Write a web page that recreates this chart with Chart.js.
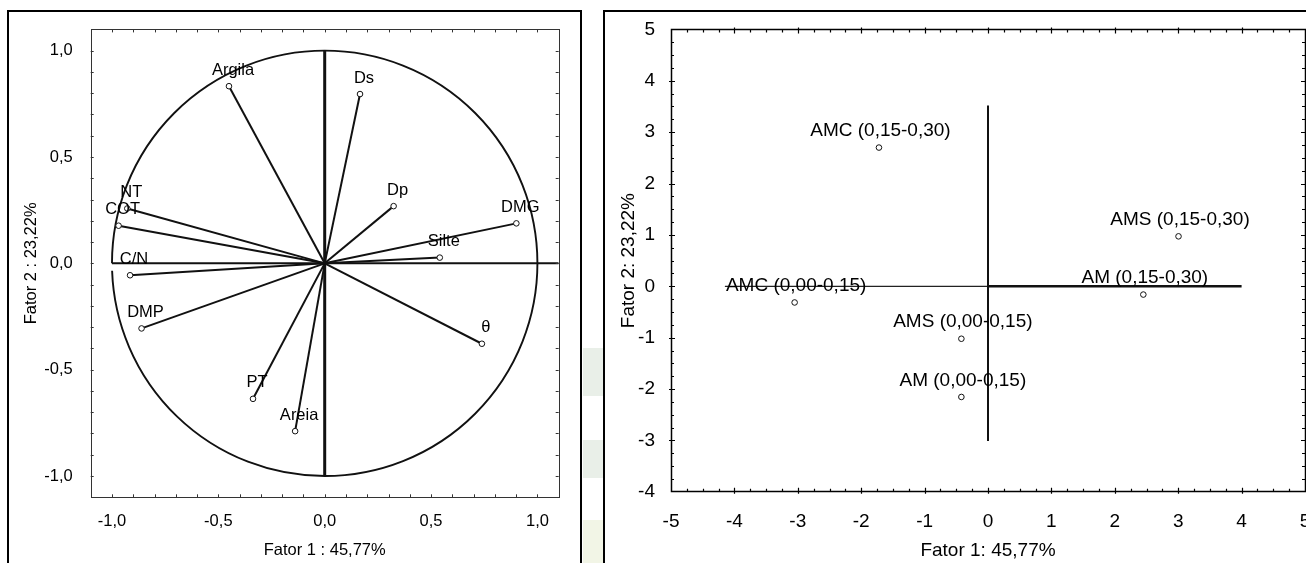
<!DOCTYPE html>
<html><head><meta charset="utf-8">
<script src="https://cdn.jsdelivr.net/npm/chart.js@4.4.0/dist/chart.umd.min.js"></script>
<style>
html,body{margin:0;padding:0;background:#fff;overflow:hidden;width:1306px;height:563px;}
#wrapL{position:absolute;left:0;top:0;width:590px;height:563px;}
#wrapR{position:absolute;left:600px;top:0;width:760px;height:563px;}
.box{position:absolute;border:2px solid #000;}
.band{position:absolute;}
canvas{display:block;}
</style></head>
<body>
<div class="band" style="left:583px;top:348px;width:20px;height:48px;background:#e9efe8"></div>
<div class="band" style="left:583px;top:440px;width:20px;height:38px;background:#e9efe8"></div>
<div class="band" style="left:583px;top:520px;width:20px;height:43px;background:#f2f5e6"></div>
<div class="box" style="left:7px;top:10px;width:571px;height:620px"></div>
<div class="box" style="left:603px;top:10px;width:800px;height:620px"></div>
<div id="wrapL"><canvas id="cL" width="590" height="563"></canvas></div>
<div id="wrapR"><canvas id="cR" width="760" height="563"></canvas></div>
<script>
// ---------- data (left: variable loadings) ----------
const varNames = ['Argila','Ds','Dp','DMG','Silte','θ','NT','COT','C/N','DMP','PT','Areia'];
const fator1Load = [-0.450, 0.166, 0.324, 0.901, 0.541, 0.739, -0.928, -0.969, -0.915, -0.861, -0.337, -0.139];
const fator2Load = [0.833, 0.796, 0.269, 0.188, 0.027, -0.378, 0.258, 0.177, -0.056, -0.306, -0.637, -0.789];
const loadTicks = [-1.0, -0.5, 0.0, 0.5, 1.0];

// ---------- data (right: sample scores) ----------
const sampleNames = ['AMC (0,15-0,30)','AMS (0,15-0,30)','AM (0,15-0,30)','AMC (0,00-0,15)','AMS (0,00-0,15)','AM (0,00-0,15)'];
const fator1Score = [-1.72, 3.005, 2.45, -3.05, -0.42, -0.42];
const fator2Score = [2.70, 0.972, -0.161, -0.315, -1.021, -2.154];
const scoreTicksX = [-5,-4,-3,-2,-1,0,1,2,3,4,5];
const scoreTicksY = [-4,-3,-2,-1,0,1,2,3,4,5];

// reference axis segments
const leftAxisV = [{x:0,y:-1},{x:0,y:1}];
const leftAxisH = [{x:-1,y:0},{x:1.1,y:0}];
const rightAxisV = [{x:0,y:-3.01},{x:0,y:3.52}];
const rightAxisHL = [{x:-4.15,y:0},{x:0,y:0}];
const rightAxisHR = [{x:0,y:0},{x:4,y:0}];

const FAM = "'Liberation Sans', Arial, sans-serif";
const TXT = '#000';

const framePlugin = {
  id: 'frameTicks',
  afterDraw(chart, args, o) {
    const {ctx, chartArea:a, scales:{x, y}} = chart;
    ctx.save();
    ctx.strokeStyle = o.color; ctx.lineWidth = o.frameWidth;
    ctx.strokeRect(Math.round(a.left)+0.5, Math.round(a.top)+0.5, Math.round(a.right-a.left), Math.round(a.bottom-a.top));
    ctx.lineWidth = o.tickWidth;
    ctx.beginPath();
    const isMaj = v => Math.abs(v - Math.round(v / o.major) * o.major) < 1e-6;
    let n = Math.round((x.max - x.min) / o.step);
    for (let i = 1; i < n; i++) {
      const v = x.min + i * o.step;
      const p = Math.round(x.getPixelForValue(v)) + 0.5;
      const inL = isMaj(v) ? o.majorIn : o.minorIn, outL = isMaj(v) ? o.majorOut : 0;
      ctx.moveTo(p, a.bottom + outL); ctx.lineTo(p, a.bottom - inL);
      ctx.moveTo(p, a.top - outL); ctx.lineTo(p, a.top + inL);
    }
    n = Math.round((y.max - y.min) / o.step);
    for (let i = 1; i < n; i++) {
      const v = y.min + i * o.step;
      const p = Math.round(y.getPixelForValue(v)) + 0.5;
      const inL = isMaj(v) ? o.majorIn : o.minorIn, outL = isMaj(v) ? o.majorOut : 0;
      ctx.moveTo(a.left - outL, p); ctx.lineTo(a.left + inL, p);
      ctx.moveTo(a.right + outL, p); ctx.lineTo(a.right - inL, p);
    }
    ctx.stroke();
    ctx.restore();
  }
};

const circlePlugin = {
  id: 'unitCircle',
  beforeDatasetsDraw(chart, args, o) {
    if (!o.enabled) return;
    const {ctx, scales:{x, y}} = chart;
    const cx = x.getPixelForValue(0), cy = y.getPixelForValue(0);
    const rx = x.getPixelForValue(1) - cx, ry = cy - y.getPixelForValue(1);
    ctx.save();
    ctx.strokeStyle = '#111'; ctx.lineWidth = 1.9;
    ctx.beginPath();
    ctx.ellipse(cx, cy, rx, ry, 0, Math.PI, 3 * Math.PI - 0.035, false);
    ctx.stroke();
    ctx.restore();
  }
};

const labelPlugin = {
  id: 'pointLabels',
  afterDatasetsDraw(chart, args, o) {
    if (!o.names) return;
    const {ctx, scales:{x, y}} = chart;
    ctx.save();
    ctx.font = o.size + 'px ' + FAM;
    ctx.fillStyle = TXT;
    ctx.textAlign = 'center'; ctx.textBaseline = 'middle';
    o.names.forEach((name, i) => {
      const px = x.getPixelForValue(o.xs[i]), py = y.getPixelForValue(o.ys[i]);
      ctx.fillText(name, px + o.dx, py + o.dy);
    });
    ctx.restore();
  }
};

Chart.register(framePlugin, circlePlugin, labelPlugin);

function lineDs(data, width, color) {
  return { data, showLine: true, borderColor: color || '#111', borderWidth: width, pointRadius: 0, fill: false, order: 5 };
}

// ---------- left chart ----------
const fmt1 = v => Number(v).toFixed(1).replace('.', ',');
const LFS = 16.5;
const leftDatasets = [
  lineDs(leftAxisV, 3),
  lineDs(leftAxisH, 2),
  ...varNames.map((n, i) => ({
    data: [{x:0,y:0},{x:fator1Load[i], y:fator2Load[i]}],
    showLine: true, borderColor: '#111', borderWidth: 2,
    pointRadius: [0, 2.8], pointBorderWidth: 1, pointBorderColor: '#111', pointBackgroundColor: '#fff', order: 1
  }))
];

new Chart(document.getElementById('cL'), {
  type: 'scatter',
  data: { datasets: leftDatasets },
  options: {
    responsive: false, animation: false, devicePixelRatio: 1, events: [],
    layout: { padding: { left: 0, top: 29.4, right: 31.3, bottom: 0 } },
    plugins: {
      legend: { display: false }, tooltip: { enabled: false },
      frameTicks: { color: '#333', frameWidth: 1, tickWidth: 1, step: 0.1, major: 0.5, majorIn: 3, minorIn: 3, majorOut: 0 },
      unitCircle: { enabled: true },
      pointLabels: { names: varNames, xs: fator1Load, ys: fator2Load, dx: 4, dy: -16, size: LFS }
    },
    scales: {
      x: {
        type: 'linear', min: -1.1, max: 1.1,
        grid: { display: false }, border: { display: false },
        afterBuildTicks: s => { s.ticks = loadTicks.map(v => ({ value: v })); },
        afterFit: s => { s.height = 65.7; },
        ticks: { padding: 6.5, autoSkip: false, maxRotation: 0, color: TXT, font: { family: FAM, size: LFS }, callback: v => fmt1(v) },
        title: { display: true, text: 'Fator 1 : 45,77%', color: TXT, font: { family: FAM, size: LFS }, padding: { top: 0, bottom: 3 } }
      },
      y: {
        type: 'linear', min: -1.1, max: 1.1,
        grid: { display: false }, border: { display: false },
        afterBuildTicks: s => { s.ticks = loadTicks.map(v => ({ value: v })); },
        afterFit: s => { s.width = 90.7; },
        ticks: { padding: 10, autoSkip: false, color: TXT, font: { family: FAM, size: LFS }, callback: v => fmt1(v) },
        title: { display: true, text: 'Fator 2 : 23,22%', color: TXT, font: { family: FAM, size: LFS }, padding: { top: 21.5, bottom: 0 } }
      }
    }
  }
});

// ---------- right chart ----------
const RFS = 19;
const rightDatasets = [
  lineDs(rightAxisV, 2),
  lineDs(rightAxisHL, 1.3, '#222'),
  lineDs(rightAxisHR, 2.5),
  { data: fator1Score.map((v, i) => ({ x: v, y: fator2Score[i] })), showLine: false,
    pointRadius: 2.8, pointBorderWidth: 1, pointBorderColor: '#111', pointBackgroundColor: '#fff', order: 1 }
];

new Chart(document.getElementById('cR'), {
  type: 'scatter',
  data: { datasets: rightDatasets },
  options: {
    responsive: false, animation: false, devicePixelRatio: 1, events: [],
    layout: { padding: { left: 0, top: 29.4, right: 55, bottom: 0 } },
    plugins: {
      legend: { display: false }, tooltip: { enabled: false },
      frameTicks: { color: '#000', frameWidth: 1.5, tickWidth: 1.2, step: 0.25, major: 1, majorIn: 4, minorIn: 3, majorOut: 2 },
      unitCircle: { enabled: false },
      pointLabels: { names: sampleNames, xs: fator1Score, ys: fator2Score, dx: 1.5, dy: -16.5, size: RFS }
    },
    scales: {
      x: {
        type: 'linear', min: -5, max: 5,
        grid: { display: false }, border: { display: false },
        afterBuildTicks: s => { s.ticks = scoreTicksX.map(v => ({ value: v })); },
        afterFit: s => { s.height = 71.2; },
        ticks: { padding: 10.3, autoSkip: false, maxRotation: 0, color: TXT, font: { family: FAM, size: RFS }, callback: v => String(v) },
        title: { display: true, text: 'Fator 1: 45,77%', color: TXT, font: { family: FAM, size: RFS }, padding: { top: 0, bottom: 0.6 } }
      },
      y: {
        type: 'linear', min: -4, max: 5,
        grid: { display: false }, border: { display: false },
        afterBuildTicks: s => { s.ticks = scoreTicksY.map(v => ({ value: v })); },
        afterFit: s => { s.width = 71; },
        ticks: { padding: 8, autoSkip: false, color: TXT, font: { family: FAM, size: RFS }, callback: v => String(v) },
        title: { display: true, text: 'Fator 2: 23,22%', color: TXT, font: { family: FAM, size: RFS }, padding: { top: 17.6, bottom: 0 } }
      }
    }
  }
});
</script>
</body></html>
